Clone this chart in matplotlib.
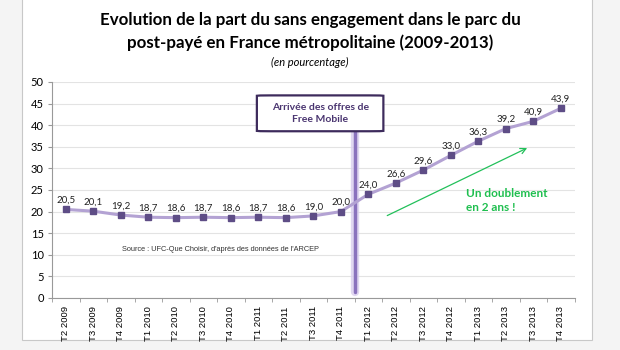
import numpy as np
import matplotlib
matplotlib.use("Agg")
import matplotlib.pyplot as plt
from matplotlib.patches import FancyBboxPatch, Rectangle

# données
trimestres = ["T2 2009", "T3 2009", "T4 2009", "T1 2010", "T2 2010", "T3 2010", "T4 2010",
              "T1 2011", "T2 2011", "T3 2011", "T4 2011", "T1 2012", "T2 2012", "T3 2012",
              "T4 2012", "T1 2013", "T2 2013", "T3 2013", "T4 2013"]
part = [20.5, 20.1, 19.2, 18.7, 18.6, 18.7, 18.6, 18.7, 18.6, 19.0, 20.0,
        24.0, 26.6, 29.6, 33.0, 36.3, 39.2, 40.9, 43.9]
free_mobile = 10.5  # entre T4 2011 et T1 2012

fig = plt.figure(figsize=(6.2, 3.5), dpi=100)
fig.patch.set_facecolor("#f4f4f4")

# panneau blanc
fig.patches.append(Rectangle((22/620, 10/350), 570/620, 345/350, transform=fig.transFigure,
                             facecolor="white", edgecolor="#c8c8c8", lw=0.8, zorder=-10))

ax = fig.add_axes([52/620, 1-298/350, 522.5/620, 216/350])
x = np.arange(len(part))

ax.plot(x, part, color="#b3a2d3", lw=2.2, zorder=3)
ax.plot(x, part, ls="none", marker="s", ms=4.5, color="#5e4d86", zorder=4)
for xi, v in zip(x, part):
    ax.text(xi, v + 2.1, f"{v:.1f}".replace(".", ","), ha="center", va="center",
            fontsize=7, family="Lato", color="#222222")

# ligne Free Mobile
ax.plot([free_mobile, free_mobile], [1.3, 38.6], color="#d9cdee", lw=6, alpha=0.8, zorder=2,
        solid_capstyle="round")
ax.plot([free_mobile, free_mobile], [1.3, 38.6], color="#8a72bd", lw=2.5, zorder=2,
        solid_capstyle="round")

box = FancyBboxPatch((6.95, 38.6), 4.6, 8.3, boxstyle="round,pad=0,rounding_size=0.5",
                     mutation_aspect=1/6, facecolor="white", edgecolor="#3d2b5c", lw=1.6,
                     zorder=5)
ax.add_patch(box)
ax.text(9.25, 42.75, "Arrivée des offres de\nFree Mobile", ha="center", va="center",
        fontsize=7.5, family="Lato", fontweight="bold", color="#4a3570", zorder=6,
        linespacing=1.45)

# flèche verte
ax.annotate("", xy=(16.87, 35.0), xytext=(11.6, 18.8),
            arrowprops=dict(arrowstyle="->", color="#22c05a", lw=0.9), zorder=5)
ax.text(14.55, 22.5, "Un doublement\nen 2 ans !", ha="left", va="center", fontsize=8.5,
        family="Lato", fontweight="bold", color="#1fbf4f", linespacing=1.3)

ax.text(2.05, 11.3, "Source : UFC-Que Choisir, d'après des données de l'ARCEP",
        ha="left", va="center", fontsize=5.3, family="Liberation Sans", color="#333333")

ax.set_xlim(-0.5, 18.5)
ax.set_ylim(0, 50)
ax.set_yticks(np.arange(0, 51, 5))
ax.set_xticks(x)
ax.set_xticklabels(trimestres, rotation=90, fontsize=6.8, family="Liberation Sans")
ax.set_xticks(np.arange(-0.5, 19, 1), minor=True)
ax.tick_params(axis="x", which="major", length=0, pad=6)
ax.tick_params(axis="x", which="minor", length=3, color="#999999", direction="out")
ax.tick_params(axis="y", labelsize=8, length=3, color="#999999", pad=3)
for lab in ax.get_yticklabels():
    lab.set_family("Lato")
ax.grid(axis="y", color="#e3e3e3", lw=0.8)
ax.set_axisbelow(True)
for s in ["top", "right"]:
    ax.spines[s].set_visible(False)
for s in ["left", "bottom"]:
    ax.spines[s].set_color("#999999")
    ax.spines[s].set_linewidth(0.8)

fig.text(0.5, 1-20/350, "Evolution de la part du sans engagement dans le parc du",
         ha="center", va="center", fontsize=12.2, family="Lato", fontweight="bold")
fig.text(0.5, 1-43/350, "post-payé en France métropolitaine (2009-2013)",
         ha="center", va="center", fontsize=12.2, family="Lato", fontweight="bold")
fig.text(0.5, 1-62/350, "(en pourcentage)", ha="center", va="center", fontsize=8,
         family="Lato", style="italic")

fig.savefig("out.png", dpi=100, facecolor=fig.get_facecolor())
